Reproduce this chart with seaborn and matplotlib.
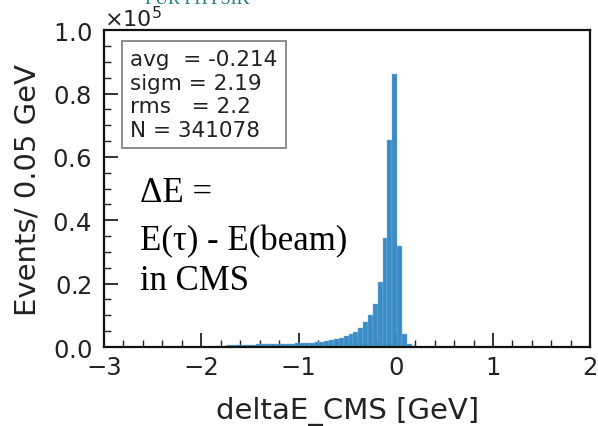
import numpy as np
import pandas as pd
import matplotlib
matplotlib.use("Agg")
import matplotlib.pyplot as plt
import seaborn as sns
from matplotlib.ticker import MultipleLocator

# ---- data (counts per 0.05 GeV bin) ----
bin_width = 0.05
first_edge = -1.835
counts = [300, 400, 500, 500, 600, 600, 700, 700, 800, 800, 900, 900, 1000, 1000,
          1100, 1100, 1200,
          1200, 1200, 1300, 1500, 1700, 1900, 2100, 2400, 2800, 3400, 4000,
          4800, 6100, 7800, 10100, 13600, 20400, 34300, 65300, 86200, 31800,
          4100, 1000, 300]
stats_lines = ["avg  = -0.214", "sigm = 2.19", "rms   = 2.2", "N = 341078"]
note_lines = ["\u0394E =", "E(\u03c4) - E(beam)", "in CMS"]
x_label = "deltaE_CMS [GeV]"
y_label = "Events/ 0.05 GeV"

edges = first_edge + bin_width * np.arange(len(counts) + 1)
centers = 0.5 * (edges[:-1] + edges[1:])
df = pd.DataFrame({"deltaE": centers, "n": np.asarray(counts, dtype=float)})

sns.set_style("ticks")
plt.rcParams["font.family"] = ["DejaVu Sans"]

fig = plt.figure(figsize=(5.98, 4.27), dpi=100)
ax = fig.add_axes([0.174, 0.185, 0.813, 0.742])

sns.histplot(data=df, x="deltaE", weights="n", bins=list(edges), ax=ax,
             color="#2f86c3", alpha=0.95, edgecolor="#7fb5dc", linewidth=0.3)

ax.set_xlim(-3, 2)
ax.set_ylim(0, 1e5)
ax.xaxis.set_major_locator(MultipleLocator(1))
ax.xaxis.set_minor_locator(MultipleLocator(0.2))
ax.yaxis.set_major_locator(MultipleLocator(0.2e5))
ax.yaxis.set_minor_locator(MultipleLocator(0.05e5))
ax.ticklabel_format(axis="y", style="sci", scilimits=(0, 0), useMathText=True)
ax.yaxis.get_offset_text().set_fontsize(16)

ax.tick_params(which="both", direction="in", top=False, right=False,
               labelsize=17.5, color="#222222", labelcolor="#222222")
ax.tick_params(which="major", length=10, width=1.3)
ax.tick_params(which="minor", length=5, width=1.0)
ax.tick_params(axis="y", which="major", pad=9)
ax.tick_params(axis="x", which="major", pad=6)
for s in ax.spines.values():
    s.set_visible(True)
    s.set_linewidth(1.6)
    s.set_color("#111111")

ax.set_xlabel(x_label, fontsize=21, color="#222222", labelpad=12)
ax.set_ylabel(y_label, fontsize=21, color="#222222", labelpad=8)

ax.text(0.054, 0.94, "\n".join(stats_lines), transform=ax.transAxes,
        fontsize=15.5, va="top", ha="left", linespacing=1.22, color="#222222",
        bbox=dict(boxstyle="square,pad=0.38", fc="white", ec="#8c8c8c", lw=1.4))

for line, yb in zip(note_lines, [0.461, 0.309, 0.183]):
    ax.text(0.073, yb, line, transform=ax.transAxes, fontsize=25,
            family=["Liberation Serif", "DejaVu Serif"], va="baseline",
            ha="left", color="black")

fig.text(0.243, 1.0, "FÜR PHYSIK", color="#1f7f7f", fontsize=13,
         family=["Liberation Serif"], va="center", ha="left")

fig.savefig("out.png", dpi=100)
